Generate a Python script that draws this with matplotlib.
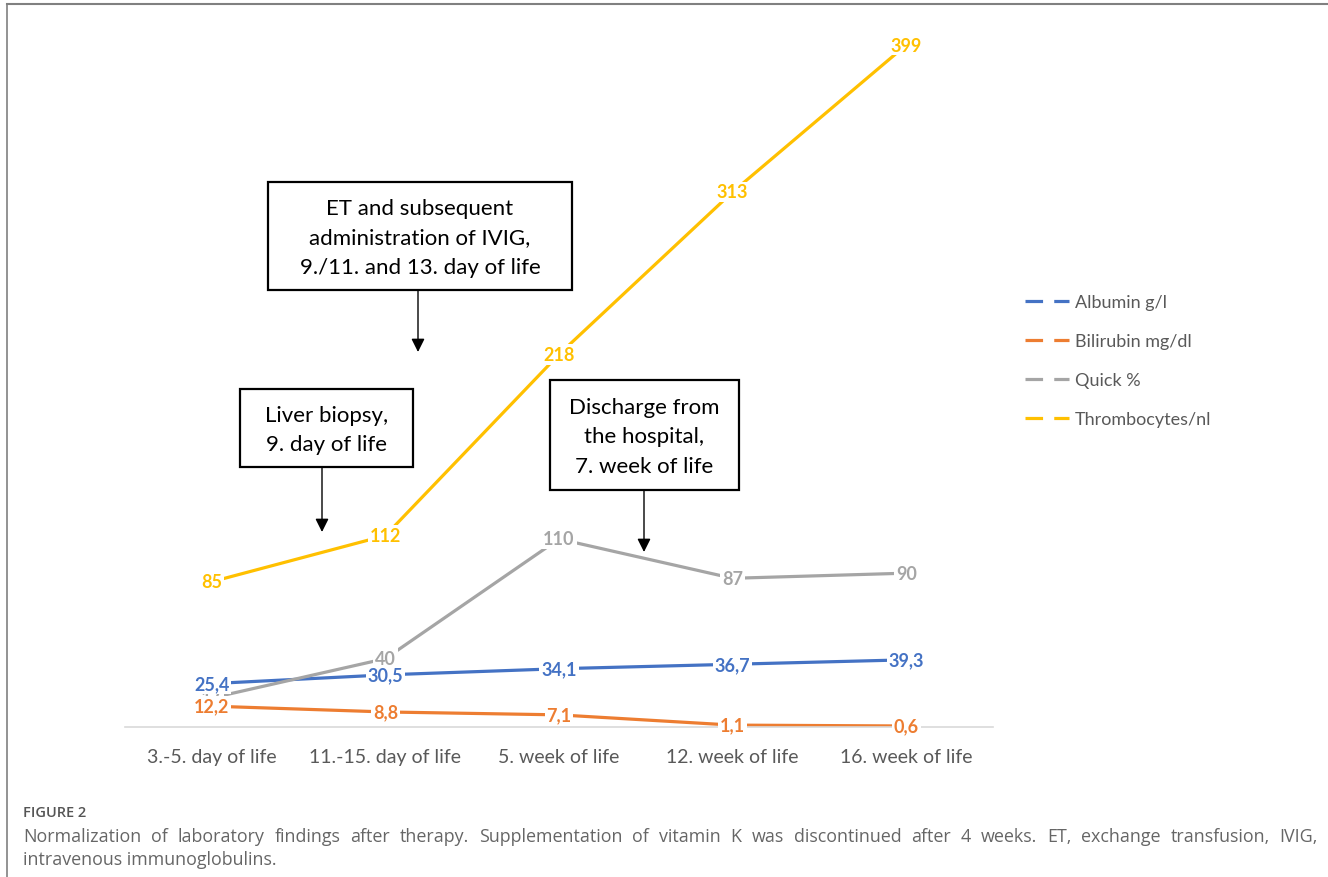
import matplotlib
matplotlib.use('Agg')
import matplotlib.pyplot as plt
from matplotlib.lines import Line2D
from matplotlib.patches import Rectangle, FancyArrowPatch

categories = ['3.-5. day of life', '11.-15. day of life', '5. week of life',
              '12. week of life', '16. week of life']
albumin = [25.4, 30.5, 34.1, 36.7, 39.3]
bilirubin = [12.2, 8.8, 7.1, 1.1, 0.6]
quick = [17, 40, 110, 87, 90]
thrombocytes = [85, 112, 218, 313, 399]

series_names = ['Albumin g/l', 'Bilirubin mg/dl', 'Quick %', 'Thrombocytes/nl']
series_colors = ['#4472C4', '#ED7D31', '#A5A5A5', '#FFC000']

caption_1 = ('Normalization of laboratory findings after therapy. Supplementation of '
             'vitamin K was discontinued after 4 weeks. ET, exchange transfusion, IVIG,')
caption_2 = 'intravenous immunoglobulins.'

W, H = 1328, 878


def px(x, y):
    # pixel position -> figure fraction
    return x / W, 1 - y / H


fig = plt.figure(figsize=(W / 100, H / 100), dpi=100)
plt.rcParams['font.family'] = ['Lato', 'DejaVu Sans']

ax = fig.add_axes([125 / W, 1 - 728 / H, (993 - 125) / W, (728 - 10) / H])
ymax = (728 - 10) / ((728 - 46) / 399.0)
ax.set_xlim(-0.5, 4.5)
ax.set_ylim(0, ymax)
for s in ['top', 'right', 'left']:
    ax.spines[s].set_visible(False)
ax.spines['bottom'].set_color('#D9D9D9')
ax.spines['bottom'].set_linewidth(1.2)
ax.set_yticks([])
ax.set_xticks(range(len(categories)))
ax.set_xticklabels(categories, fontsize=14, color='#595959')
ax.tick_params(axis='x', length=0, pad=15)

x = list(range(len(categories)))
fmt = lambda v: ('%g' % v).replace('.', ',')
all_series = [albumin, bilirubin, quick, thrombocytes]
for vals, col in zip(all_series, series_colors):
    ax.plot(x, vals, color=col, lw=2.3, solid_capstyle='butt', zorder=2)
# quick labels go underneath the others (17 is partly hidden in the original)
label_order = [2, 3, 0, 1]
for k, i in enumerate(label_order):
    vals, col = all_series[i], series_colors[i]
    for xi, v in zip(x, vals):
        ax.text(xi, v, fmt(v), color=col, fontsize=13, fontweight='bold',
                ha='center', va='center', zorder=3 + k,
                bbox=dict(boxstyle='square,pad=0.1', fc='white', ec='none'))

# legend
handles = [Line2D([0], [0], color=c, lw=2.3, linestyle=(0, (5.5, 3.5)),
                  dash_capstyle='butt') for c in series_colors]
leg = fig.legend(handles, series_names, loc='upper left',
                 bbox_to_anchor=px(1009, 279), frameon=False, fontsize=13,
                 handlelength=2.45, handletextpad=0.3, labelspacing=1.27,
                 labelcolor='#595959')

# annotation boxes
boxes = [
    ((268, 183, 572, 291), 'ET and subsequent\nadministration of IVIG,\n9./11. and 13. day of life', (418, 291, 418, 353)),
    ((240, 390, 413, 468), 'Liver biopsy,\n9. day of life', (322, 468, 322, 533)),
    ((550, 381, 739, 491), 'Discharge from\nthe hospital,\n7. week of life', (644, 491, 644, 553)),
]
for (x0, y0, x1, y1), txt, (ax0, ay0, ax1, ay1) in boxes:
    fx0, fy1 = px(x0, y1)
    fig.add_artist(Rectangle((fx0, fy1), (x1 - x0) / W, (y1 - y0) / H,
                             transform=fig.transFigure, fill=False,
                             ec='black', lw=1.6))
    cx, cy = px((x0 + x1) / 2, (y0 + y1) / 2 + 1.5)
    fig.text(cx, cy, txt, ha='center', va='center', fontsize=16,
             color='black', linespacing=1.6)
    fig.add_artist(FancyArrowPatch(px(ax0, ay0), px(ax1, ay1),
                                   transform=fig.transFigure, arrowstyle='-|>',
                                   mutation_scale=20, lw=1, color='black',
                                   shrinkA=0, shrinkB=0))

# frame lines
fig.add_artist(Line2D([7 / W, 1], [1 - 5 / H, 1 - 5 / H], transform=fig.transFigure,
                      color='#808080', lw=1.5))
fig.add_artist(Line2D([7 / W, 7 / W], [0, 1 - 5 / H], transform=fig.transFigure,
                      color='#808080', lw=1.2))

# caption
fig.text(23 / W, 1 - 813 / H, 'FIGURE 2', fontsize=10.5, color='#555555',
         family='Open Sans', fontweight='semibold', va='center')

# first caption line is justified between x=23 and x=1318
renderer = fig.canvas.get_renderer()
words = caption_1.split(' ')
wtexts = [fig.text(0, 1 - 837 / H, w, fontsize=12.9, color='#666666',
                   family='Open Sans', va='center') for w in words]
widths = [t.get_window_extent(renderer).width for t in wtexts]
gap = (1318 - 23 - sum(widths)) / (len(words) - 1)
xpos = 23
for t, w in zip(wtexts, widths):
    t.set_x(xpos / W)
    xpos += w + gap
fig.text(23 / W, 1 - 860 / H, caption_2, fontsize=12.9,
         color='#666666', family='Open Sans', va='center')

fig.savefig('out.png', dpi=100)
